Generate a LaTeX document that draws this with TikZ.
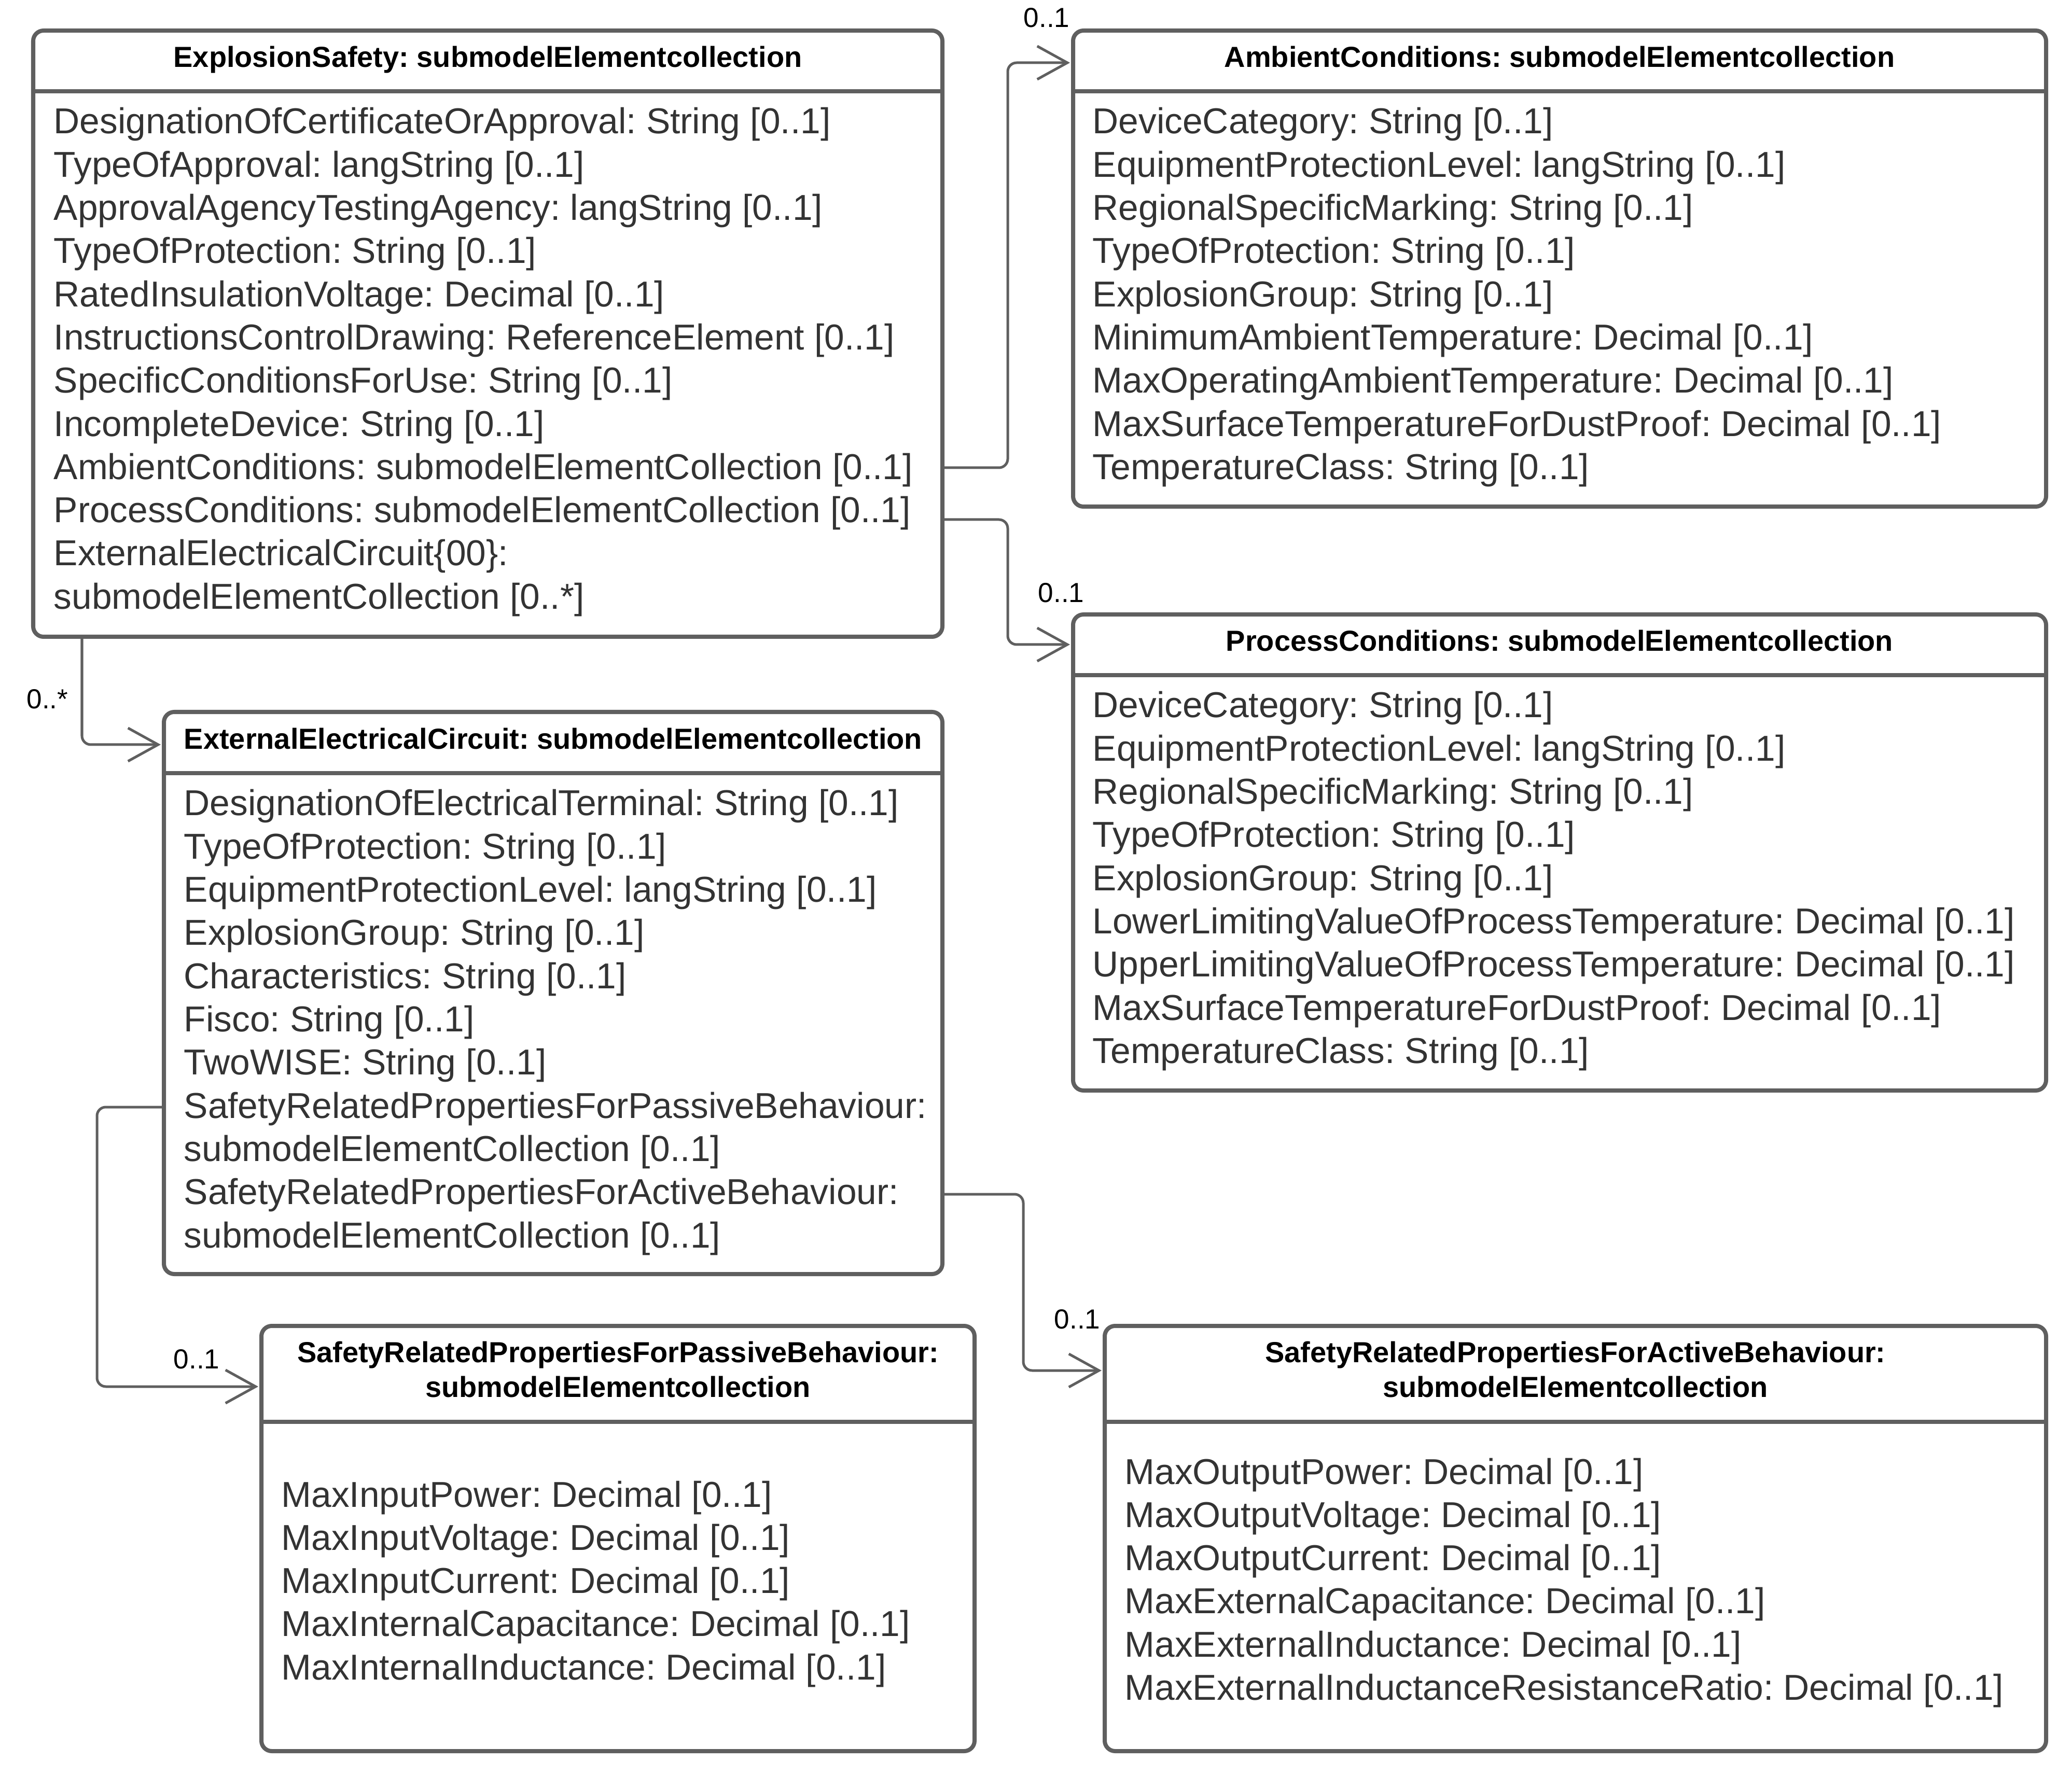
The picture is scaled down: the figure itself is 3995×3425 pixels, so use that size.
\documentclass[tikz,border=0pt]{standalone}
\usepackage{fontspec}
\setmainfont{Liberation Sans}
\frenchspacing
\usetikzlibrary{arrows.meta,fit}
\definecolor{clsLine}{HTML}{5F5F5F}
\definecolor{clsText}{HTML}{333333}
\tikzset{
  clsBox/.style={draw=clsLine,line width=0.08cm,rounded corners=0.2cm,inner sep=0pt},
  clsRule/.style={draw=clsLine,line width=0.08cm},
  clsTitle/.style={font=\bfseries\fontsize{15.9pt}{19pt}\selectfont,text=black,inner sep=0pt,anchor=base},
  clsAttr/.style={font=\fontsize{19.75pt}{23.7pt}\selectfont,text=clsText,inner sep=0pt,anchor=base west},
  clsLink/.style={draw=clsLine,line width=0.05cm,rounded corners=0.17cm,
                  -{Straight Barb[length=0.58cm,width=0.64cm]},shorten >=0.02cm},
  clsMult/.style={font=\fontsize{15.1pt}{18pt}\selectfont,text=black,inner sep=0pt,anchor=base east}
}

\begin{document}
\begin{tikzpicture}[x=0.01cm,y=-0.01cm]
\useasboundingbox (0,0) rectangle (3995,3425);

% class boxes
\node[clsBox,fit={(64,59) (1817,1228)}] (safety) {};
\node[clsBox,fit={(2069,59) (3945,977)}] (ambient) {};
\node[clsBox,fit={(2069,1185) (3945,2103)}] (process) {};
\node[clsBox,fit={(316,1373) (1817,2457)}] (circuit) {};
\node[clsBox,fit={(504,2557) (1879,3377)}] (passive) {};
\node[clsBox,fit={(2130,2557) (3945,3377)}] (active) {};

% header rules
\draw[clsRule] (safety.west |- 0,176) -- (safety.east |- 0,176);
\draw[clsRule] (ambient.west |- 0,176) -- (ambient.east |- 0,176);
\draw[clsRule] (process.west |- 0,1302) -- (process.east |- 0,1302);
\draw[clsRule] (circuit.west |- 0,1491) -- (circuit.east |- 0,1491);
\draw[clsRule] (passive.west |- 0,2742) -- (passive.east |- 0,2742);
\draw[clsRule] (active.west |- 0,2742) -- (active.east |- 0,2742);

% titles
\node[clsTitle] (safety-t) at (safety.north |- 0,130) {ExplosionSafety: submodelElementcollection};
\node[clsTitle] (ambient-t) at (ambient.north |- 0,130) {AmbientConditions: submodelElementcollection};
\node[clsTitle] (process-t) at (process.north |- 0,1256) {ProcessConditions: submodelElementcollection};
\node[clsTitle] (circuit-t) at (circuit.north |- 0,1445) {ExternalElectricalCircuit: submodelElementcollection};
\node[clsTitle] (passive-t1) at (passive.north |- 0,2627) {SafetyRelatedPropertiesForPassiveBehaviour:};
\node[clsTitle] (passive-t2) at (passive.north |- 0,2694) {submodelElementcollection};
\node[clsTitle] (active-t1) at (active.north |- 0,2627) {SafetyRelatedPropertiesForActiveBehaviour:};
\node[clsTitle] (active-t2) at (active.north |- 0,2694) {submodelElementcollection};

% attributes
\foreach \txt [count=\i] in {{DesignationOfCertificateOrApproval: String [0..1]},
  {TypeOfApproval: langString [0..1]},{ApprovalAgencyTestingAgency: langString [0..1]},
  {TypeOfProtection: String [0..1]},{RatedInsulationVoltage: Decimal [0..1]},
  {InstructionsControlDrawing: ReferenceElement [0..1]},{SpecificConditionsForUse: String [0..1]},
  {IncompleteDevice: String [0..1]},{AmbientConditions: submodelElementCollection [0..1]},
  {ProcessConditions: submodelElementCollection [0..1]},{ExternalElectricalCircuit\{00\}:},
  {submodelElementCollection [0..*]}}
  \node[clsAttr] (safety-\i) at (103,{258+83.3*(\i-1)}) {\txt};

\foreach \txt [count=\i] in {{DeviceCategory: String [0..1]},
  {EquipmentProtectionLevel: langString [0..1]},{RegionalSpecificMarking: String [0..1]},
  {TypeOfProtection: String [0..1]},{ExplosionGroup: String [0..1]},
  {MinimumAmbientTemperature: Decimal [0..1]},{MaxOperatingAmbientTemperature: Decimal [0..1]},
  {MaxSurfaceTemperatureForDustProof: Decimal [0..1]},{TemperatureClass: String [0..1]}}
  \node[clsAttr] (ambient-\i) at (2106,{258+83.3*(\i-1)}) {\txt};

\foreach \txt [count=\i] in {{DeviceCategory: String [0..1]},
  {EquipmentProtectionLevel: langString [0..1]},{RegionalSpecificMarking: String [0..1]},
  {TypeOfProtection: String [0..1]},{ExplosionGroup: String [0..1]},
  {LowerLimitingValueOfProcessTemperature: Decimal [0..1]},
  {UpperLimitingValueOfProcessTemperature: Decimal [0..1]},
  {MaxSurfaceTemperatureForDustProof: Decimal [0..1]},{TemperatureClass: String [0..1]}}
  \node[clsAttr] (process-\i) at (2106,{1384+83.3*(\i-1)}) {\txt};

\foreach \txt [count=\i] in {{DesignationOfElectricalTerminal: String [0..1]},
  {TypeOfProtection: String [0..1]},{EquipmentProtectionLevel: langString [0..1]},
  {ExplosionGroup: String [0..1]},{Characteristics: String [0..1]},
  {Fisco: String [0..1]},{TwoWISE: String [0..1]},
  {SafetyRelatedPropertiesForPassiveBehaviour:},{submodelElementCollection [0..1]},
  {SafetyRelatedPropertiesForActiveBehaviour:},{submodelElementCollection [0..1]}}
  \node[clsAttr] (circuit-\i) at (354,{1573+83.3*(\i-1)}) {\txt};

\foreach \txt [count=\i] in {{MaxInputPower: Decimal [0..1]},
  {MaxInputVoltage: Decimal [0..1]},{MaxInputCurrent: Decimal [0..1]},
  {MaxInternalCapacitance: Decimal [0..1]},{MaxInternalInductance: Decimal [0..1]}}
  \node[clsAttr] (passive-\i) at (542,{2906+83.3*(\i-1)}) {\txt};

\foreach \txt [count=\i] in {{MaxOutputPower: Decimal [0..1]},
  {MaxOutputVoltage: Decimal [0..1]},{MaxOutputCurrent: Decimal [0..1]},
  {MaxExternalCapacitance: Decimal [0..1]},{MaxExternalInductance: Decimal [0..1]},
  {MaxExternalInductanceResistanceRatio: Decimal [0..1]}}
  \node[clsAttr] (active-\i) at (2168,{2862+83.3*(\i-1)}) {\txt};

% associations
\draw[clsLink] (safety.east |- 0,902) -- (1943,902) |- (ambient.west |- 0,121);
\draw[clsLink] (safety.east |- 0,1002) -- (1943,1002) |- (process.west |- 0,1243);
\draw[clsLink] (safety.south -| 158,0) |- (circuit.west |- 0,1436);
\draw[clsLink] (circuit.west |- 0,2135) -- (187,2135) |- (passive.west |- 0,2674);
\draw[clsLink] (circuit.east |- 0,2303) -- (1973,2303) |- (active.west |- 0,2643);

% multiplicities
\node[clsMult] (m-ambient) at (2063,53) {0..1};
\node[clsMult] (m-process) at (2091,1162) {0..1};
\node[clsMult] (m-circuit) at (132,1367) {0..*};
\node[clsMult] (m-passive) at (424,2639) {0..1};
\node[clsMult] (m-active) at (2122,2562) {0..1};
\end{tikzpicture}
\end{document}
